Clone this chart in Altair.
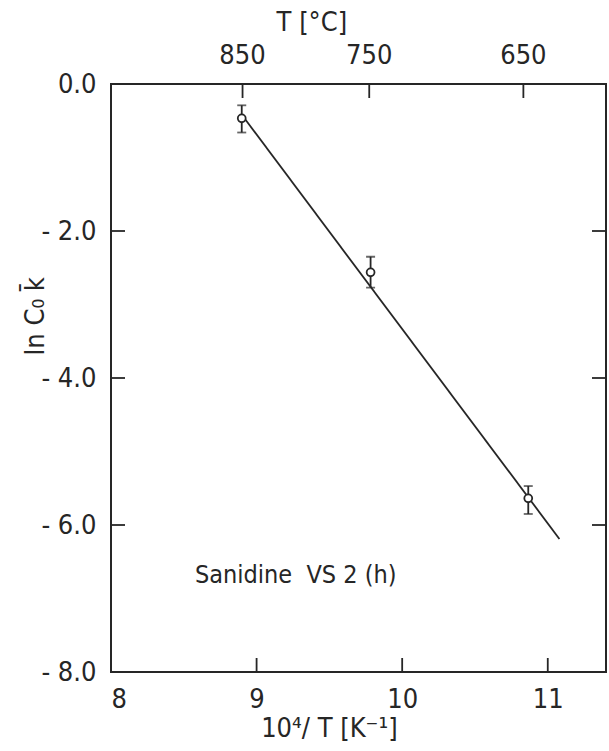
import altair as alt
import pandas as pd

# Measured points: inverse temperature, ln(C0 k), error bar limits
inv_t = [8.898, 9.783, 10.866]
ln_ck = [-0.467, -2.562, -5.637]
err_lo = [-0.66, -2.77, -5.85]
err_hi = [-0.29, -2.35, -5.47]

# Fitted straight line (end points)
fit_x = [8.91, 11.08]
fit_y = [-0.45, -6.19]

# Axis ticks
x_ticks = [8, 9, 10, 11]
y_ticks = [0, -2, -4, -6, -8]
inner_y_ticks = [-2, -4, -6]
inner_x_ticks = [9, 10, 11]
temps_c = [850, 750, 650]

FONT = "DejaVu Sans Condensed, Roboto, sans-serif"
INK = "#262626"
FS = 27
W, H = 495, 588
TICK = 14
SW = 1.8

pts = pd.DataFrame({"x": inv_t, "y": ln_ck, "lo": err_lo, "hi": err_hi})
fit = pd.DataFrame({"x": fit_x, "y": fit_y})
top = pd.DataFrame({"T": temps_c})
top["x"] = 1e4 / (top["T"] + 273.15)
top["label"] = top["T"].astype(str)

xs = alt.Scale(domain=[8, 11.4], nice=False, zero=False)
ys = alt.Scale(domain=[-8, 0], nice=False, zero=False)

x_axis = alt.Axis(values=x_ticks, ticks=False, domain=False, grid=False,
                  labelPadding=14, labelFontSize=FS, labelFont=FONT,
                  labelColor=INK, title=None, format="d")
y_axis = alt.Axis(values=y_ticks, ticks=False, domain=False, grid=False,
                  labelPadding=15, labelFontSize=FS, labelFont=FONT,
                  labelColor=INK, title=None,
                  labelExpr="datum.value == 0 ? '0.0' : '- ' + format(-datum.value, '.1f')")

base = alt.Chart(pts)

line = alt.Chart(fit).mark_line(color=INK, strokeWidth=SW).encode(
    x=alt.X("x:Q", scale=xs, axis=x_axis),
    y=alt.Y("y:Q", scale=ys, axis=y_axis),
)

err = base.mark_rule(color=INK, strokeWidth=SW).encode(
    x=alt.X("x:Q", scale=xs), y=alt.Y("lo:Q", scale=ys), y2="hi:Q"
)
cap_lo = base.mark_tick(color=INK, orient="horizontal", size=9, thickness=SW).encode(
    x=alt.X("x:Q", scale=xs), y=alt.Y("lo:Q", scale=ys)
)
cap_hi = base.mark_tick(color=INK, orient="horizontal", size=9, thickness=SW).encode(
    x=alt.X("x:Q", scale=xs), y=alt.Y("hi:Q", scale=ys)
)
dots = base.mark_point(shape="circle", filled=False, fill="white", fillOpacity=1,
                       color=INK, strokeWidth=SW, size=62, opacity=1).encode(
    x=alt.X("x:Q", scale=xs), y=alt.Y("y:Q", scale=ys)
)

# Inward tick marks on all four sides
ly = pd.DataFrame({"v": inner_y_ticks})
lx = pd.DataFrame({"v": inner_x_ticks})
left_ticks = alt.Chart(ly).mark_rule(color=INK, strokeWidth=SW).encode(
    y=alt.Y("v:Q", scale=ys), x=alt.value(0), x2=alt.value(TICK))
right_ticks = alt.Chart(ly).mark_rule(color=INK, strokeWidth=SW).encode(
    y=alt.Y("v:Q", scale=ys), x=alt.value(W - TICK), x2=alt.value(W))
bottom_ticks = alt.Chart(lx).mark_rule(color=INK, strokeWidth=SW).encode(
    x=alt.X("v:Q", scale=xs), y=alt.value(H - TICK), y2=alt.value(H))
top_ticks = alt.Chart(top).mark_rule(color=INK, strokeWidth=SW).encode(
    x=alt.X("x:Q", scale=xs), y=alt.value(0), y2=alt.value(TICK))
top_labels = alt.Chart(top).mark_text(font=FONT, fontSize=FS, color=INK,
                                      baseline="middle", align="center").encode(
    x=alt.X("x:Q", scale=xs), y=alt.value(-28), text="label:N")

def note(text, x, y, size=FS, **kw):
    return alt.Chart(pd.DataFrame({"t": [text]})).mark_text(
        font=FONT, fontSize=size, color=INK, baseline="middle", **kw
    ).encode(x=x, y=y, text="t:N")

top_title = note("T [°C]", alt.X(datum=9.38, scale=xs), alt.value(-61), align="center")
x_title = note("10⁴/ T [K⁻¹]", alt.X(datum=9.5, scale=xs), alt.value(H + 57), align="center")
y_title = note("ln C₀ k̄", alt.value(-75), alt.Y(datum=-3.16, scale=ys),
               align="center", angle=270)
sample = note("Sanidine\u00a0 VS\u00a02 (h)", alt.X(datum=8.577, scale=xs),
              alt.Y(datum=-6.68, scale=ys), size=25, align="left")

chart = alt.layer(
    line, err, cap_lo, cap_hi, dots,
    left_ticks, right_ticks, bottom_ticks, top_ticks, top_labels,
    top_title, x_title, y_title, sample,
).properties(
    width=W, height=H,
    autosize=alt.AutoSizeParams(type="none"),
    padding={"left": 111, "top": 84, "right": 2, "bottom": 79},
    background="white",
).configure_view(stroke=INK, strokeWidth=2)

chart.save("out.html", embed_options={"renderer": "svg", "actions": False})
